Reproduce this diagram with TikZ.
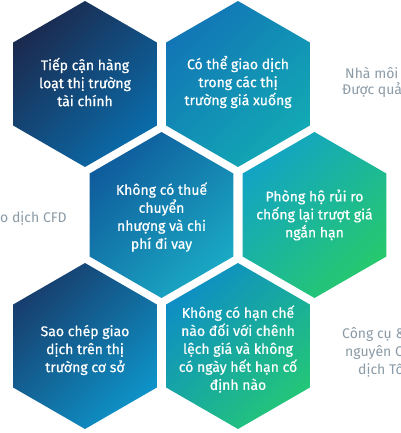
\documentclass[tikz,border=0pt]{standalone}
\usepackage{fontspec}
\setmainfont{Fira Sans}
\newfontfamily\hexfont{Fira Sans}[FakeBold=0.6]
\definecolor{sidegrey}{HTML}{8A9AA6}
\definecolor{hAa}{HTML}{1B2A4F}\definecolor{hAb}{HTML}{0A6CAA}
\definecolor{hBa}{HTML}{1276B6}\definecolor{hBb}{HTML}{12A9B4}
\definecolor{hCa}{HTML}{0F5C9C}\definecolor{hCb}{HTML}{1AA9C4}
\definecolor{hDa}{HTML}{12A4C4}\definecolor{hDb}{HTML}{26C96E}
\definecolor{hEa}{HTML}{173E6E}\definecolor{hEb}{HTML}{0E93C8}
\definecolor{hFa}{HTML}{0E8EC4}\definecolor{hFb}{HTML}{23C679}
\newcommand\hexshape[4]{\shade[top color=#3, bottom color=#4, shading angle=45]
  (#1,#2) +(90:83) -- +(30:83) -- +(-30:83) -- +(-90:83) -- +(-150:83) -- +(150:83) -- cycle;}
\tikzset{
  hextext/.style={text=white, align=center, inner sep=0pt, font=\hexfont\fontsize{14}{18}\selectfont},
  sidetext/.style={text=sidegrey, anchor=west, inner sep=0pt, font=\fontsize{14}{18}\selectfont}
}
\begin{document}
\begin{tikzpicture}[x=1pt,y=-1pt]
\useasboundingbox (0,0) rectangle (400,433);
\hexshape{85}{84}{hAa}{hAb}
\hexshape{238}{84}{hBa}{hBb}
\hexshape{161.5}{215}{hCa}{hCb}
\hexshape{314.5}{215}{hDa}{hDb}
\hexshape{85}{346}{hEa}{hEb}
\hexshape{238}{346}{hFa}{hFb}
\node[hextext] (h1) at (85,82) {Tiếp cận hàng\\loạt thị trường\\tài chính};
\node[hextext] (h2) at (238,82) {Có thể giao dịch\\trong các thị\\trường giá xuống};
\node[hextext] (h3) at (161.5,217) {Không có thuế\\chuyển\\nhượng và chi\\phí đi vay};
\node[hextext] (h4) at (314.5,215) {Phòng hộ rủi ro\\chống lại trượt giá\\ngắn hạn};
\node[hextext] (h5) at (85,350) {Sao chép giao\\dịch trên thị\\trường cơ sở};
\node[hextext] (h6) at (238,349) {Không có hạn chế\\nào đối với chênh\\lệch giá và không\\có ngày hết hạn cố\\định nào};
\node[sidetext] (s1) at (345,73) {Nhà môi};
\node[sidetext] (s2) at (342,90) {Được quả};
\node[sidetext] (s3) at (0,218) {o dịch CFD};
\node[sidetext] (s4) at (342,334) {Công cụ \&};
\node[sidetext] (s5) at (345,352) {nguyên C};
\node[sidetext] (s6) at (358,370) {dịch Tố};
\end{tikzpicture}
\end{document}
